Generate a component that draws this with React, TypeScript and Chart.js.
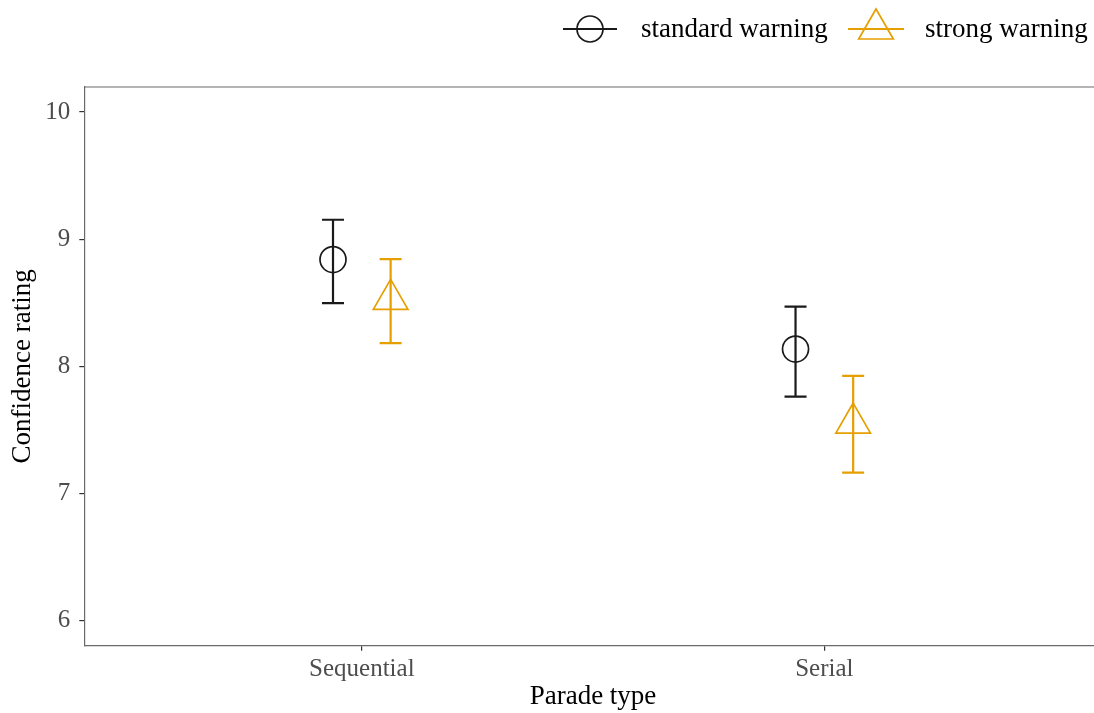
import React, { useEffect, useRef } from 'react';
import { Chart, registerables } from 'chart.js';

Chart.register(...registerables);

const categories = ['Sequential', 'Serial'];
const seriesNames = ['standard warning', 'strong warning'];
const standardMean = [8.84, 8.136];
const standardLower = [8.497, 7.762];
const standardUpper = [9.153, 8.47];
const strongMean = [8.527, 7.554];
const strongLower = [8.183, 7.164];
const strongUpper = [8.843, 7.925];
const yTicks = [6, 7, 8, 9, 10];
const xTitle = 'Parade type';
const yTitle = 'Confidence rating';

const DODGE = 0.0623;
const CAP = 0.0238;
const BLACK = '#1a1a1a';
const ORANGE = '#E69F00';
const AXIS = '#4d4d4d';
const FONT = '"Liberation Serif", "Times New Roman", serif';

function drawTriangle(ctx: CanvasRenderingContext2D, x: number, y: number, r: number) {
  ctx.beginPath();
  ctx.moveTo(x, y - r);
  ctx.lineTo(x + Math.sin((2 * Math.PI) / 3) * r, y + r / 2);
  ctx.lineTo(x - Math.sin((2 * Math.PI) / 3) * r, y + r / 2);
  ctx.closePath();
  ctx.stroke();
}

const errorBarPlugin = {
  id: 'errorBars',
  beforeDatasetsDraw(chart: any) {
    const ctx = chart.ctx;
    const xs = chart.scales.x;
    const ys = chart.scales.y;
    chart.data.datasets.forEach((ds: any) => {
      ds.data.forEach((pt: any, i: number) => {
        const x = xs.getPixelForValue(pt.x);
        const xl = xs.getPixelForValue(pt.x - CAP);
        const xr = xs.getPixelForValue(pt.x + CAP);
        const yt = ys.getPixelForValue(ds.upper[i]);
        const yb = ys.getPixelForValue(ds.lower[i]);
        ctx.save();
        ctx.strokeStyle = ds.borderColor;
        ctx.lineWidth = 2.2;
        ctx.beginPath();
        ctx.moveTo(x, yt);
        ctx.lineTo(x, yb);
        ctx.moveTo(xl, yt);
        ctx.lineTo(xr, yt);
        ctx.moveTo(xl, yb);
        ctx.lineTo(xr, yb);
        ctx.stroke();
        ctx.restore();
      });
    });
  },
};

const decorPlugin = {
  id: 'decor',
  afterDraw(chart: any) {
    const ctx = chart.ctx;
    const a = chart.chartArea;
    ctx.save();
    // top panel border
    ctx.strokeStyle = '#6a6a6a';
    ctx.lineWidth = 1.2;
    ctx.beginPath();
    ctx.moveTo(a.left, a.top);
    ctx.lineTo(a.right, a.top);
    ctx.stroke();

    // axis titles
    ctx.fillStyle = '#000';
    ctx.font = `27px ${FONT}`;
    ctx.textAlign = 'center';
    ctx.textBaseline = 'middle';
    ctx.fillText(xTitle, 593, 697);
    ctx.save();
    ctx.translate(23, (a.top + a.bottom) / 2);
    ctx.rotate(-Math.PI / 2);
    ctx.fillText(yTitle, 0, 0);
    ctx.restore();

    // legend
    const ly = 29;
    ctx.lineWidth = 2.2;
    ctx.strokeStyle = BLACK;
    ctx.beginPath();
    ctx.moveTo(563, ly);
    ctx.lineTo(617, ly);
    ctx.stroke();
    ctx.lineWidth = 1.7;
    ctx.beginPath();
    ctx.arc(590, ly, 13, 0, Math.PI * 2);
    ctx.stroke();

    ctx.strokeStyle = ORANGE;
    ctx.lineWidth = 2.2;
    ctx.beginPath();
    ctx.moveTo(848, ly);
    ctx.lineTo(904, ly);
    ctx.stroke();
    ctx.lineWidth = 1.7;
    drawTriangle(ctx, 876, ly, 20);

    ctx.fillStyle = '#000';
    ctx.font = `27px ${FONT}`;
    ctx.textAlign = 'left';
    ctx.textBaseline = 'middle';
    ctx.fillText(seriesNames[0], 641, ly + 1);
    ctx.fillText(seriesNames[1], 925, ly + 1);
    ctx.restore();
  },
};

export default function App() {
  const ref = useRef<HTMLCanvasElement>(null);

  useEffect(() => {
    if (!ref.current) return;
    const chart = new Chart(ref.current, {
      type: 'scatter',
      data: {
        datasets: [
          {
            label: seriesNames[0],
            data: categories.map((_, i) => ({ x: i + 1 - DODGE, y: standardMean[i] })),
            lower: standardLower,
            upper: standardUpper,
            pointStyle: 'circle',
            pointRadius: 13,
            pointHoverRadius: 13,
            borderColor: BLACK,
            backgroundColor: 'rgba(0,0,0,0)',
            borderWidth: 1.7,
            showLine: false,
          } as any,
          {
            label: seriesNames[1],
            data: categories.map((_, i) => ({ x: i + 1 + DODGE, y: strongMean[i] })),
            lower: strongLower,
            upper: strongUpper,
            pointStyle: 'triangle',
            pointRadius: 20,
            pointHoverRadius: 20,
            borderColor: ORANGE,
            backgroundColor: 'rgba(0,0,0,0)',
            borderWidth: 1.7,
            showLine: false,
          } as any,
        ],
      },
      options: {
        animation: false,
        responsive: false,
        devicePixelRatio: 1,
        layout: { autoPadding: false, padding: { top: 87, left: 0, right: 0, bottom: 0 } },
        plugins: {
          legend: { display: false },
          tooltip: { enabled: false },
        },
        scales: {
          x: {
            type: 'linear',
            min: 0.4,
            max: 2.583,
            afterBuildTicks: (s: any) => {
              s.ticks = categories.map((_, i) => ({ value: i + 1 }));
            },
            afterFit: (s: any) => {
              s.height = 67.3;
              s.paddingLeft = 0;
              s.paddingRight = 0;
            },
            ticks: {
              callback: (v: any) => categories[Math.round(v) - 1] ?? '',
              color: AXIS,
              font: { family: FONT, size: 25 },
              padding: 4,
              maxRotation: 0,
              autoSkip: false,
            },
            grid: {
              display: true,
              drawOnChartArea: false,
              drawTicks: true,
              tickLength: 5,
              color: '#333',
              lineWidth: 1.2,
            },
            border: { display: true, color: '#6a6a6a', width: 1.2 },
          },
          y: {
            type: 'linear',
            min: 5.803,
            max: 10.197,
            afterBuildTicks: (s: any) => {
              s.ticks = yTicks.map((v) => ({ value: v }));
            },
            afterFit: (s: any) => {
              s.width = 84.3;
              s.paddingTop = 0;
              s.paddingBottom = 0;
            },
            ticks: {
              color: AXIS,
              font: { family: FONT, size: 25 },
              padding: 9,
            },
            grid: {
              display: true,
              drawOnChartArea: false,
              drawTicks: true,
              tickLength: 5,
              color: '#333',
              lineWidth: 1.2,
            },
            border: { display: true, color: '#6a6a6a', width: 1.2 },
          },
        },
      } as any,
      plugins: [errorBarPlugin, decorPlugin],
    });
    return () => chart.destroy();
  }, []);

  return (
    <div style={{ position: 'fixed', left: 0, top: 0, width: 1094, height: 713, background: '#fff' }}>
      <canvas ref={ref} width={1094} height={713} style={{ display: 'block' }} />
    </div>
  );
}
